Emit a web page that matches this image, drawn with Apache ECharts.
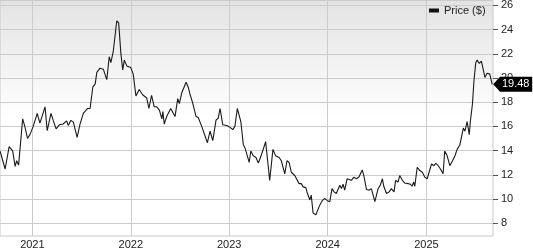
<!DOCTYPE html>
<html>
<head>
<meta charset="utf-8">
<script src="https://cdn.jsdelivr.net/npm/echarts@6/dist/echarts.min.js"></script>
<style>html,body{margin:0;padding:0;background:#fff}#c{width:533px;height:250px}</style>
</head>
<body>
<div id="c"></div>
<script>
var dates = ['2020-09-03','2020-09-22','2020-10-07','2020-10-20','2020-10-29','2020-11-04','2020-11-11','2020-11-26','2020-12-04','2020-12-14','2020-12-23',
'2021-01-04','2021-01-19','2021-01-29','2021-02-04','2021-02-17','2021-02-25','2021-03-04','2021-03-11','2021-03-20','2021-03-30','2021-04-11','2021-04-25','2021-05-08','2021-05-14','2021-05-24','2021-06-02','2021-06-16','2021-06-26','2021-07-09','2021-07-16','2021-07-25','2021-08-03','2021-08-13','2021-08-22','2021-08-28','2021-09-09','2021-09-21','2021-10-04','2021-10-13','2021-10-19','2021-10-28','2021-11-10','2021-11-17','2021-11-25','2021-12-02','2021-12-08','2021-12-17',
'2022-01-01','2022-01-10','2022-01-20','2022-02-01','2022-02-14','2022-03-01','2022-03-09','2022-03-19','2022-03-29','2022-04-07','2022-04-17','2022-04-26','2022-04-30','2022-05-05','2022-05-14','2022-05-29','2022-06-05','2022-06-14','2022-06-24','2022-06-30','2022-07-09','2022-07-15','2022-07-25','2022-08-02','2022-08-08','2022-08-18','2022-08-23','2022-08-31','2022-09-08','2022-09-21','2022-10-12','2022-10-22','2022-10-26','2022-11-01','2022-11-13','2022-11-21','2022-11-28','2022-12-08','2022-12-23',
'2023-01-04','2023-01-14','2023-01-22','2023-01-31','2023-02-13','2023-02-22','2023-03-01','2023-03-07','2023-03-16','2023-03-22','2023-03-31','2023-04-10','2023-04-19','2023-05-01','2023-05-16','2023-05-31','2023-06-12','2023-06-22','2023-07-05','2023-07-13','2023-07-19','2023-07-26','2023-08-03','2023-08-11','2023-08-19','2023-09-01','2023-09-07','2023-09-17','2023-09-25','2023-10-02','2023-10-12','2023-10-18','2023-10-27','2023-11-01','2023-11-08','2023-11-18','2023-11-24','2023-12-03','2023-12-12','2023-12-21','2023-12-31',
'2024-01-09','2024-01-17','2024-01-25','2024-02-02','2024-02-15','2024-02-21','2024-02-27','2024-03-04','2024-03-13','2024-03-20','2024-03-29','2024-04-07','2024-04-16','2024-04-26','2024-05-08','2024-05-14','2024-05-24','2024-06-03','2024-06-11','2024-06-24','2024-07-06','2024-07-14','2024-07-22','2024-07-27','2024-08-06','2024-08-16','2024-08-24','2024-09-03','2024-09-09','2024-09-18','2024-09-24','2024-10-04','2024-10-13','2024-10-25','2024-11-03','2024-11-09','2024-11-15','2024-11-19','2024-11-28','2024-12-08','2024-12-17','2024-12-26',
'2025-01-04','2025-01-11','2025-01-20','2025-01-29','2025-02-05','2025-02-14','2025-02-22','2025-03-04','2025-03-10','2025-03-19','2025-03-29','2025-04-08','2025-04-17','2025-04-25','2025-05-05','2025-05-11','2025-05-18','2025-05-24','2025-06-01','2025-06-09','2025-06-13','2025-06-21','2025-06-26','2025-07-03','2025-07-08','2025-07-16','2025-07-24','2025-08-06','2025-08-14','2025-08-24','2025-09-02'];
var prices = [13.97,12.48,14.32,13.97,12.7,13.16,12.8,16.62,16.0,15.0,15.32,
16.0,17.08,16.27,16.4,17.62,15.64,15.6,17.08,16.45,15.8,16.13,16.2,16.45,16.08,16.5,16.35,15.1,16.13,17.08,16.95,17.48,17.48,19.24,19.51,20.46,20.81,20.73,19.86,21.76,21.27,22.21,24.73,24.56,22.08,20.67,21.48,21.0,
20.86,20.32,18.51,19.05,18.62,18.35,17.48,18.56,17.62,17.62,17.35,16.62,17.22,16.19,16.81,17.48,17.35,16.81,18.3,17.89,18.78,18.7,19.65,19.24,18.7,17.97,17.97,16.81,16.73,16.0,14.65,15.6,15.64,14.83,16.52,16.67,17.48,16.13,16.08,
15.92,15.73,16.0,17.48,16.4,14.51,14.19,14.24,13.02,13.97,13.57,13.43,12.97,13.7,14.73,11.54,14.1,13.57,13.43,13.16,13.3,12.08,13.16,13.02,12.21,11.94,11.81,11.27,11.27,11.0,10.94,10.45,9.92,10.32,8.83,8.70,8.62,9.51,9.86,10.05,9.86,
9.78,10.86,10.59,10.45,11.13,10.86,11.22,10.73,11.67,11.73,11.54,11.81,11.67,11.81,12.4,11.94,10.78,10.73,10.86,9.78,10.86,11.13,11.67,11.05,10.45,10.59,10.86,10.59,11.54,11.4,11.94,11.54,11.32,11.27,11.22,11.05,11.4,11.05,12.62,12.35,12.21,11.81,
11.67,12.21,12.89,12.75,12.94,12.75,12.48,12.08,13.97,13.57,12.75,13.16,13.57,14.1,14.46,14.51,15.86,15.6,16.4,15.32,16.4,17.89,19.65,21.27,21.48,21.21,21.4,20.05,20.4,20.32,19.48];
var yearTicks = ['2021-01-01','2022-01-01','2023-01-01','2024-01-01','2025-01-01'];
var priceTicks = [8,10,12,14,16,18,20,22,24,26];
var seriesName = 'Price ($)';
var xRange = ['2020-09-03','2025-09-05'];

function ts(s){var p=s.split('-');return Date.UTC(+p[0],+p[1]-1,+p[2]);}
var chart = echarts.init(document.getElementById('c'), null, {renderer:'canvas'});
var data = dates.map(function(d,i){return [ts(d), prices[i]];});
var last = data[data.length-1];
var font = 'Liberation Sans, Arial, sans-serif';
chart.setOption({
  animation:false,
  grid:{left:0,right:40,top:0,bottom:10,show:true,borderColor:'#c8c8c8',borderWidth:1,
    backgroundColor:new echarts.graphic.LinearGradient(0,0,0,1,[{offset:0,color:'#e3e3e3'},{offset:0.5,color:'#ffffff'},{offset:1,color:'#ffffff'}])},
  legend:{show:true,left:429,top:5,padding:0,itemWidth:10,itemHeight:4,itemGap:5,icon:'rect',
    data:[{name:seriesName,icon:'rect'}],
    textStyle:{fontSize:11,color:'#222',fontFamily:font}},
  xAxis:{type:'value',min:ts(xRange[0]),max:ts(xRange[1]),
    axisLine:{show:false},
    axisTick:{show:false,customValues:yearTicks.map(ts)},
    axisLabel:{customValues:yearTicks.map(ts),margin:3,fontSize:11,color:'#222',fontFamily:font,
      formatter:function(v){return String(new Date(v).getUTCFullYear());}},
    splitLine:{show:true,lineStyle:{color:'#cccccc',width:1}}},
  yAxis:{type:'value',position:'right',min:6.94,max:26.4,
    axisLine:{show:false},
    axisTick:{show:true,length:5,customValues:priceTicks,lineStyle:{color:'#555'}},
    axisLabel:{customValues:priceTicks,margin:8,fontSize:11,color:'#222',fontFamily:font},
    splitLine:{show:true,lineStyle:{color:'#cccccc',width:1}}},
  series:[{name:seriesName,type:'line',data:data,showSymbol:false,symbol:'none',
    itemStyle:{color:'#111'},
    lineStyle:{color:'#1a1a1a',width:1.1},
    markPoint:{symbol:'path://M0,7.5 L7,0 L40,0 L40,15 L7,15 Z',symbolSize:[39,15],symbolOffset:[20.5,0],
      silent:true,
      itemStyle:{color:'#000'},
      label:{show:true,position:'inside',offset:[3,0],color:'#fff',fontSize:11,fontFamily:font,
        formatter:function(p){return p.value.toFixed(2);}},
      data:[{coord:last,value:last[1]}]}}]
});
</script>
</body>
</html>
